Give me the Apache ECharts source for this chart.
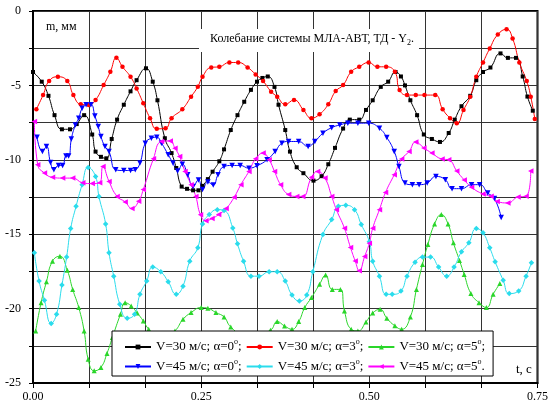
<!DOCTYPE html>
<html>
<head>
<meta charset="utf-8">
<script src="https://cdn.jsdelivr.net/npm/echarts@6/dist/echarts.min.js"></script>
<style>
  html, body { margin: 0; padding: 0; background: #fff; }
  #chart { width: 551px; height: 412px; }
</style>
</head>
<body>
<div id="chart"></div>
<script>
// t, c  /  m, мм
const v30a0 = [[0.000,-4.1],[0.013,-4.75],[0.023,-5.7],[0.032,-7.0],[0.043,-7.95],[0.055,-7.95],[0.065,-7.6],[0.076,-7.0],[0.088,-8.3],[0.093,-9.45],[0.101,-9.8],[0.109,-9.9],[0.117,-8.6],[0.125,-7.3],[0.135,-6.3],[0.145,-5.4],[0.154,-4.65],[0.168,-3.85],[0.178,-4.75],[0.185,-6.0],[0.196,-8.55],[0.206,-9.55],[0.213,-10.55],[0.221,-11.8],[0.229,-11.95],[0.238,-12.05],[0.246,-12.05],[0.252,-11.75],[0.260,-11.3],[0.267,-10.8],[0.277,-10.1],[0.284,-9.3],[0.294,-8.0],[0.304,-7.0],[0.314,-6.1],[0.324,-5.3],[0.333,-4.75],[0.341,-4.5],[0.349,-4.4],[0.359,-5.1],[0.365,-6.3],[0.375,-8.0],[0.382,-9.45],[0.392,-10.5],[0.402,-10.9],[0.417,-11.4],[0.429,-11.1],[0.439,-10.3],[0.449,-9.2],[0.461,-7.9],[0.471,-7.3],[0.485,-7.3],[0.495,-6.65],[0.505,-6.0],[0.517,-5.1],[0.528,-4.75],[0.539,-4.1],[0.547,-4.4],[0.553,-5.0],[0.561,-6.0],[0.571,-7.0],[0.581,-8.3],[0.593,-8.6],[0.605,-8.8],[0.618,-8.2],[0.627,-7.3],[0.637,-6.4],[0.650,-5.7],[0.659,-4.65],[0.669,-4.1],[0.680,-3.8],[0.695,-2.85],[0.706,-3.15],[0.718,-3.15],[0.728,-4.4],[0.735,-5.75],[0.743,-6.7]];

const v30a3 = [[0.005,-6.6],[0.015,-5.65],[0.024,-4.7],[0.037,-4.42],[0.051,-4.7],[0.060,-5.65],[0.071,-6.27],[0.083,-6.31],[0.093,-5.98],[0.105,-4.98],[0.115,-4.09],[0.124,-3.15],[0.133,-3.75],[0.145,-4.42],[0.154,-5.2],[0.164,-6.2],[0.174,-7.2],[0.184,-7.92],[0.197,-7.88],[0.206,-7.2],[0.222,-6.6],[0.235,-5.76],[0.245,-5.09],[0.252,-4.42],[0.265,-3.79],[0.277,-3.75],[0.292,-3.46],[0.305,-3.46],[0.319,-3.79],[0.331,-4.26],[0.342,-4.71],[0.354,-5.42],[0.363,-5.76],[0.375,-6.27],[0.388,-5.98],[0.402,-6.65],[0.414,-7.2],[0.426,-6.94],[0.439,-6.27],[0.450,-5.38],[0.461,-4.98],[0.473,-4.09],[0.485,-3.75],[0.499,-3.46],[0.512,-3.75],[0.525,-3.75],[0.538,-4.09],[0.545,-5.31],[0.556,-5.65],[0.569,-5.65],[0.582,-5.65],[0.598,-5.65],[0.609,-6.6],[0.620,-7.2],[0.630,-7.54],[0.640,-6.65],[0.650,-5.76],[0.659,-4.42],[0.669,-3.46],[0.679,-2.52],[0.691,-1.58],[0.704,-1.23],[0.713,-1.85],[0.723,-3.46],[0.734,-4.71],[0.740,-5.76],[0.746,-7.25]];

const v30a5 = [[0.004,-21.5],[0.012,-19.6],[0.020,-18.19],[0.029,-16.81],[0.040,-16.48],[0.051,-17.43],[0.059,-18.71],[0.068,-19.93],[0.076,-21.5],[0.082,-23.4],[0.091,-24.18],[0.101,-23.95],[0.110,-23.01],[0.118,-21.94],[0.130,-20.38],[0.137,-19.6],[0.146,-19.83],[0.155,-20.3],[0.164,-20.83],[0.172,-21.39],[0.190,-22.2],[0.211,-21.5],[0.223,-20.72],[0.235,-20.27],[0.250,-19.93],[0.260,-19.98],[0.272,-20.27],[0.284,-20.56],[0.294,-21.23],[0.320,-22.0],[0.353,-21.45],[0.363,-20.87],[0.374,-21.17],[0.385,-21.39],[0.395,-20.87],[0.404,-19.93],[0.414,-19.26],[0.426,-18.37],[0.435,-17.75],[0.445,-18.71],[0.457,-18.71],[0.463,-20.16],[0.473,-21.39],[0.483,-21.5],[0.495,-20.9],[0.505,-20.3],[0.516,-20.05],[0.526,-20.65],[0.538,-21.16],[0.548,-21.39],[0.561,-20.56],[0.570,-18.71],[0.579,-17.03],[0.587,-15.69],[0.597,-14.31],[0.607,-13.68],[0.617,-14.31],[0.625,-15.58],[0.634,-16.76],[0.641,-17.7],[0.651,-18.99],[0.663,-19.6],[0.674,-19.93],[0.684,-19.04],[0.694,-18.32]];

const v45a0 = [[0.006,-8.48],[0.014,-9.44],[0.020,-9.11],[0.026,-10.18],[0.031,-10.67],[0.038,-10.38],[0.044,-10.38],[0.049,-9.75],[0.053,-9.75],[0.057,-8.6],[0.063,-7.66],[0.068,-7.2],[0.073,-6.54],[0.079,-6.3],[0.086,-6.3],[0.092,-7.05],[0.097,-7.77],[0.101,-8.44],[0.107,-9.11],[0.113,-9.44],[0.123,-10.67],[0.135,-10.72],[0.145,-10.72],[0.152,-10.67],[0.159,-10.22],[0.167,-8.88],[0.176,-8.55],[0.184,-8.48],[0.191,-8.88],[0.201,-9.66],[0.208,-10.22],[0.215,-10.75],[0.222,-10.3],[0.230,-11.0],[0.238,-11.8],[0.246,-11.35],[0.252,-12.0],[0.260,-11.5],[0.268,-11.7],[0.275,-11.0],[0.284,-10.45],[0.296,-10.38],[0.308,-10.38],[0.321,-10.56],[0.333,-10.4],[0.348,-10.0],[0.360,-9.44],[0.370,-8.88],[0.380,-8.77],[0.395,-8.77],[0.409,-9.11],[0.419,-8.77],[0.431,-8.21],[0.444,-7.84],[0.456,-7.66],[0.468,-7.54],[0.483,-7.54],[0.499,-7.54],[0.515,-7.88],[0.526,-8.5],[0.537,-9.44],[0.544,-10.45],[0.553,-11.56],[0.564,-11.67],[0.574,-11.67],[0.586,-11.56],[0.599,-11.12],[0.613,-11.34],[0.623,-11.94],[0.637,-11.94],[0.652,-11.67],[0.664,-11.67],[0.676,-12.23],[0.686,-12.6],[0.696,-13.87]];

const v45a3 = [[0.002,-16.25],[0.009,-18.15],[0.017,-19.44],[0.027,-21.0],[0.035,-20.38],[0.043,-18.42],[0.050,-16.54],[0.056,-14.62],[0.064,-13.13],[0.073,-11.67],[0.082,-10.51],[0.093,-11.12],[0.098,-12.46],[0.108,-14.31],[0.113,-16.25],[0.120,-17.82],[0.129,-19.71],[0.140,-20.65],[0.151,-20.38],[0.159,-19.04],[0.169,-18.15],[0.178,-17.21],[0.190,-17.52],[0.201,-18.19],[0.213,-19.04],[0.223,-18.49],[0.233,-16.81],[0.245,-15.91],[0.252,-14.31],[0.262,-13.68],[0.274,-13.35],[0.284,-13.4],[0.297,-14.58],[0.304,-15.65],[0.313,-16.81],[0.324,-17.82],[0.336,-17.82],[0.351,-17.52],[0.363,-17.52],[0.375,-18.15],[0.385,-19.09],[0.396,-19.49],[0.407,-19.09],[0.416,-17.52],[0.431,-15.02],[0.444,-14.02],[0.454,-13.13],[0.465,-13.06],[0.478,-13.35],[0.488,-14.35],[0.500,-15.5],[0.505,-16.81],[0.515,-17.82],[0.525,-19.04],[0.534,-19.04],[0.547,-18.82],[0.556,-17.82],[0.568,-16.88],[0.579,-16.54],[0.591,-16.54],[0.603,-17.21],[0.615,-17.82],[0.626,-17.21],[0.637,-16.18],[0.648,-15.58],[0.659,-14.62],[0.669,-14.91],[0.679,-15.91],[0.687,-16.85],[0.699,-18.1],[0.708,-18.99],[0.722,-18.82],[0.733,-17.82],[0.741,-16.92]];

const v45a5 = [[0.002,-7.43],[0.007,-10.33],[0.017,-10.89],[0.029,-11.18],[0.044,-11.23],[0.059,-11.23],[0.074,-11.55],[0.088,-11.6],[0.099,-11.55],[0.104,-10.45],[0.113,-11.45],[0.125,-12.46],[0.137,-12.83],[0.147,-13.28],[0.157,-12.79],[0.164,-12.0],[0.179,-9.93],[0.191,-8.77],[0.204,-8.73],[0.211,-9.22],[0.218,-9.78],[0.226,-10.78],[0.235,-11.67],[0.242,-12.46],[0.249,-13.7],[0.257,-14.1],[0.266,-13.95],[0.276,-13.68],[0.287,-13.28],[0.299,-12.52],[0.309,-11.67],[0.321,-10.78],[0.331,-9.93],[0.342,-9.55],[0.351,-10.0],[0.359,-10.78],[0.368,-11.67],[0.380,-12.34],[0.392,-12.46],[0.401,-12.46],[0.414,-11.18],[0.423,-10.78],[0.434,-11.23],[0.444,-12.46],[0.451,-13.35],[0.463,-14.6],[0.472,-15.9],[0.479,-16.8],[0.485,-17.45],[0.493,-16.5],[0.500,-15.6],[0.505,-14.6],[0.515,-13.35],[0.524,-12.2],[0.537,-11.0],[0.548,-9.95],[0.559,-9.45],[0.569,-8.8],[0.581,-9.2],[0.593,-9.55],[0.608,-9.95],[0.618,-10.0],[0.630,-10.75],[0.641,-11.35],[0.652,-11.85],[0.669,-12.3],[0.681,-12.45],[0.690,-12.8],[0.706,-12.9],[0.721,-12.5],[0.733,-12.45],[0.740,-10.75]];

const seriesNames = [
  'V=30 м/с; α=0°;', 'V=30 м/с; α=3°;', 'V=30 м/с; α=5°;',
  'V=45 м/с; α=0°;', 'V=45 м/с; α=3°;', 'V=45 м/с; α=5°.'
];
const seriesData = [v30a0, v30a3, v30a5, v45a0, v45a3, v45a5];
const colors = ['#000000', '#ff0000', '#2ad62a', '#0000ff', '#2adcec', '#ff00ff'];
const symbols = ['rect', 'circle', 'triangle', 'triangle', 'diamond', 'triangle'];
const symbolRot = [0, 0, 0, 180, 0, 90];
const symbolSizes = [4, 4.5, 5, 5.5, 5.5, 5.5];

const FONT = 'Liberation Serif';

const chart = echarts.init(document.getElementById('chart'));

const series = seriesData.map((d, i) => ({
  name: seriesNames[i],
  type: 'line',
  data: d,
  smooth: 0.5,
  color: colors[i],
  symbol: symbols[i],
  symbolRotate: symbolRot[i],
  symbolSize: symbolSizes[i],
  showAllSymbol: true,
  lineStyle: { width: 1, color: colors[i] },
  itemStyle: { color: colors[i] },
  emphasis: { disabled: true },
  animation: false
}));

chart.setOption({
  animation: false,
  grid: {
    left: 33, right: 8, top: 11, bottom: 29,
    show: true, borderColor: '#000', borderWidth: 2
  },
  xAxis: {
    type: 'value', min: 0, max: 0.75, interval: 0.25,
    axisLine: { show: true, onZero: false, lineStyle: { color: '#000', width: 2 } },
    axisTick: { show: true, inside: false, length: 5, lineStyle: { color: '#000' } },
    minorTick: { show: true, splitNumber: 3, length: 5, lineStyle: { color: '#000' } },
    splitLine: { show: true, lineStyle: { color: '#333', width: 1 } },
    minorSplitLine: { show: true, lineStyle: { color: '#333', width: 1 } },
    axisLabel: {
      color: '#000', fontFamily: FONT, fontSize: 12, margin: 8,
      formatter: v => v.toFixed(2)
    }
  },
  yAxis: {
    type: 'value', min: -25, max: 0, interval: 5,
    axisLine: { show: true, onZero: false, lineStyle: { color: '#000', width: 2 } },
    axisTick: { show: true, inside: false, length: 4, lineStyle: { color: '#000' } },
    minorTick: { show: true, splitNumber: 2, length: 4, lineStyle: { color: '#000' } },
    splitLine: { show: true, lineStyle: { color: '#333', width: 1 } },
    minorSplitLine: { show: true, lineStyle: { color: '#333', width: 1 } },
    axisLabel: { color: '#000', fontFamily: FONT, fontSize: 12, margin: 12 }
  },
  legend: {
    left: 112, top: 331, width: 395,
    padding: [7, 8, 3, 12],
    itemWidth: 26, itemHeight: 6, itemGap: 4,
    backgroundColor: '#fff', borderColor: '#000', borderWidth: 1,
    data: seriesNames,
    formatter: name => {
      const m = name.match(/^(.*α=\d)°(.)$/);
      return '{n|' + m[1] + '}{s|o}{n|' + m[2] + '}';
    },
    textStyle: {
      color: '#000', fontFamily: FONT, fontSize: 13, width: 94,
      rich: {
        n: { fontFamily: FONT, fontSize: 13, lineHeight: 18, color: '#000' },
        s: { fontFamily: FONT, fontSize: 8, lineHeight: 18, verticalAlign: 'top', color: '#000' }
      }
    }
  },
  graphic: [
    { type: 'rect', z: 100, shape: { x: 199, y: 29, width: 220, height: 23 }, style: { fill: '#fff' } },
    {
      type: 'text', z: 101, left: 210, top: 33,
      style: {
        text: '{a|Колебание системы МЛА-АВТ, ТД - Y}{b|2}{a|.}',
        rich: {
          a: { fontFamily: FONT, fontSize: 12, fill: '#000', lineHeight: 16 },
          b: { fontFamily: FONT, fontSize: 8, fill: '#000', lineHeight: 16, verticalAlign: 'bottom' }
        }
      }
    },
    { type: 'text', z: 101, left: 46, top: 21, style: { text: 'm, мм', font: '12px "Liberation Serif"', fill: '#000' } },
    { type: 'text', z: 101, left: 516, top: 363, style: { text: 't, c', font: '13px "Liberation Serif"', fill: '#000' } }
  ],
  series: series
});
</script>
</body>
</html>
